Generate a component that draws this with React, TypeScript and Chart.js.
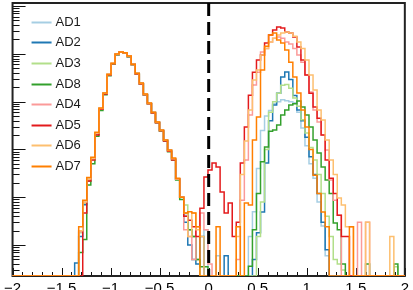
import React, { useEffect, useRef } from 'react';
import { Chart, registerables } from 'chart.js';

Chart.register(...registerables);

// ---- data ----
const SERIES_LABELS = ['AD1', 'AD2', 'AD3', 'AD8', 'AD4', 'AD5', 'AD6', 'AD7'];
const SERIES_COLORS = ['#a6cee3', '#1f78b4', '#b2df8a', '#33a02c', '#fb9a99', '#e31a1c', '#fdbf6f', '#ff7f00'];

// histogram binning (left edge of bin 0, bin width, number of bins)
const BIN_START = -2.026;
const BIN_WIDTH = 0.0412;
const N_BINS = 99;
// the value arrays below start at this bin index (earlier bins are empty)
const FIRST_BIN = 15;

const X_TICKS = [-2, -1.5, -1, -0.5, 0, 0.5, 1, 1.5, 2];
const X_MIN = -2;
const X_MAX = 2;
const Y_MIN = 0.225;
const Y_MAX = 1.16e5;
const CUT_VALUE = 0;

// bins 15 .. 98
const AD1 = [
  0, 0, 2.0, 8, 24, 66, 220, 720, 1500, 3700,
  6300, 9800, 10900, 10500, 8900, 6000, 3900, 2400, 1420, 920,
  590, 370, 250, 155, 95, 64, 24, 10, 4.2, 2.1,
  1.5, 0.5, 0, 2.1, 0, 0, 0.6, 0, 0, 0,
  0, 0, 0, 0, 1.5, 5, 40, 250, 500, 650,
  900, 1000, 1100, 1050, 1000, 950, 600, 280, 120, 50,
  25, 8, 2.5, 0.6, 0, 0, 0, 0, 0, 0,
  0, 0, 0, 0, 0, 0, 0, 0, 0, 0,
  0, 0, 0, 0,
];
const AD2 = [
  0, 0.42, 1.5, 7, 22, 62, 210, 700, 1480, 3650,
  6250, 9750, 10900, 10500, 8850, 6000, 3880, 2400, 1420, 920,
  590, 370, 250, 155, 95, 64, 24, 10, 3, 1,
  0.5, 0.4, 1.5, 0, 0, 0, 0, 0, 0.6, 0,
  0, 0, 0, 0, 0, 0.5, 1.8, 4.9, 52, 400,
  850, 1500, 3300, 4200, 2900, 1350, 670, 400, 180, 70,
  30, 12, 3, 0.8, 0, 0, 0, 0, 0, 0,
  0, 0, 0, 0, 0, 0, 0, 0, 0, 0,
  0, 0, 0, 0,
];
const AD3 = [
  0, 0, 1.8, 7.5, 23, 64, 215, 710, 1490, 3680,
  6300, 9800, 10900, 10500, 8900, 6000, 3900, 2400, 1420, 920,
  590, 370, 250, 155, 95, 64, 24, 10, 6.9, 2.1,
  1.5, 0.5, 0, 0, 0, 0, 0, 0, 0, 0,
  0, 0, 0, 0, 0, 0, 1.5, 8, 100, 600,
  1000, 1500, 2200, 2300, 1900, 1200, 800, 420, 220, 110,
  60, 30, 12, 4, 1.5, 0.5, 0.4, 0.3, 0, 0,
  0, 0, 0, 0, 0, 0, 0, 0, 0, 0,
  0.35, 0, 0, 0,
];
const AD8 = [
  0, 0, 0.7, 1.3, 18, 50, 190, 650, 1400, 3500,
  6100, 9600, 10800, 10400, 8700, 5900, 3800, 2350, 1380, 900,
  570, 360, 240, 150, 90, 60, 23, 9, 4.7, 2.1,
  1.5, 0.5, 0.35, 0.35, 0, 0, 0, 0, 0, 0,
  0, 0, 0, 0, 0.36, 2.1, 12, 55, 112, 240,
  255, 324, 524, 667, 849, 900, 1030, 775, 524, 294,
  157, 84, 43, 23, 12, 2.9, 2.1, 0.4, 0, 0,
  0, 0, 0, 0.4, 0, 0, 0, 0, 0, 0,
  0.4, 0, 0, 0,
];
const AD4 = [
  0, 0, 1.9, 7.8, 23, 64, 215, 710, 1490, 3680,
  6300, 9800, 10900, 10500, 8900, 6000, 3900, 2400, 1420, 920,
  590, 370, 250, 155, 95, 64, 24, 10, 2.1, 1.5,
  0.5, 2.4, 4.7, 2.1, 0.4, 0, 0, 0, 0, 0,
  0, 0.5, 8.7, 60, 524, 2220, 4150, 10900, 13000, 17700,
  21300, 22500, 21300, 17700, 16000, 13000, 9440, 6700, 3600, 1600,
  667, 375, 200, 97, 23, 8.7, 4.2, 0, 0, 0,
  0, 3.0, 0, 3.0, 0, 0, 0, 0, 0, 0,
  0, 0, 0, 0,
];
const AD5 = [
  0, 0, 0, 4.7, 22, 60, 200, 690, 1450, 3600,
  6200, 9700, 10900, 10500, 8800, 6000, 3800, 2350, 1400, 900,
  580, 360, 245, 150, 92, 60, 24, 10, 4, 3.3,
  2.4, 1.5, 5.9, 26.5, 37, 52, 43, 12.9, 4.7, 7.6,
  1.5, 3.0, 52, 294, 1370, 4150, 7410, 9440, 16850, 24700,
  31500, 36400, 34700, 28800, 27500, 22500, 13900, 7410, 3600, 1500,
  775, 450, 200, 60, 25, 12, 4.2, 1.5, 1.5, 0,
  0, 0, 0, 0, 0, 0, 0, 0, 0, 0,
  0, 0, 0, 0,
];
const AD6 = [
  0, 0, 2.0, 8, 24, 65, 220, 720, 1500, 3700,
  6300, 9800, 10900, 10500, 8900, 6000, 3900, 2400, 1420, 920,
  590, 370, 250, 155, 95, 64, 24, 10, 4.7, 1.5,
  4.7, 2.1, 1.5, 0, 0, 0, 0, 0, 0, 0,
  0, 1.5, 30, 150, 667, 2830, 4580, 9440, 13000, 17700,
  21300, 24700, 27500, 28800, 27500, 23400, 17700, 13000, 7410, 3600,
  1750, 667, 412, 157, 60, 30, 9.6, 6.9, 2.4, 2.4,
  0, 0, 0, 3.0, 0, 0, 0, 0, 0, 1.5,
  0, 0, 0, 0,
];
const AD7 = [
  0, 0, 2.4, 8.7, 26, 69, 230, 735, 1520, 3750,
  6400, 9900, 11000, 10600, 9000, 6100, 3950, 2450, 1440, 935,
  600, 375, 255, 157, 97, 66, 25, 10, 4.7, 5,
  4.7, 2.4, 0, 0, 0, 0, 2.4, 0, 0, 0,
  0, 2.4, 0, 7.6, 6.9, 157, 475, 4580, 14500, 24700,
  27500, 19400, 16900, 12000, 6700, 3300, 1520, 667, 294, 100,
  29, 12, 4.9, 2.4, 0, 0, 0, 0, 0, 2.4,
  0, 0, 0, 0, 0, 0, 0, 0, 0, 0,
  0, 0, 0, 0,
];
const SERIES_VALUES = [AD1, AD2, AD3, AD8, AD4, AD5, AD6, AD7];

const FONT = '"Liberation Sans", Arial, Helvetica, sans-serif';

function histPoints(values: number[]) {
  const pts: { x: number; y: number }[] = [];
  let last = Y_MIN;
  for (let j = 0; j < N_BINS; j++) {
    const k = j - FIRST_BIN;
    const v = k >= 0 && k < values.length ? values[k] : 0;
    last = v > Y_MIN ? v : Y_MIN;
    pts.push({ x: BIN_START + j * BIN_WIDTH, y: last });
  }
  pts.push({ x: BIN_START + N_BINS * BIN_WIDTH, y: last });
  return pts;
}

const framePlugin = {
  id: 'rootFrame',
  beforeDatasetsDraw(chart: any) {
    const { ctx, chartArea, scales } = chart;
    const { left, right, top, bottom } = chartArea;
    const xs = scales.x;
    const ys = scales.y;
    ctx.save();
    ctx.strokeStyle = '#111';
    ctx.lineWidth = 1;
    ctx.beginPath();
    for (let k = -20; k <= 20; k++) {
      const px = Math.round(xs.getPixelForValue(k / 10)) + 0.5;
      const len = k % 5 === 0 ? 8 : 4;
      ctx.moveTo(px, bottom);
      ctx.lineTo(px, bottom - len);
    }
    for (let e = -1; e <= 5; e++) {
      for (let m = 1; m <= 9; m++) {
        const v = m * Math.pow(10, e);
        if (v < Y_MIN || v > Y_MAX) continue;
        const py = Math.round(ys.getPixelForValue(v)) + 0.5;
        const len = m === 1 ? 13 : 7;
        ctx.moveTo(left, py);
        ctx.lineTo(left + len, py);
      }
    }
    ctx.stroke();
    ctx.lineWidth = 2;
    ctx.strokeStyle = '#222';
    ctx.strokeRect(left, top, right - left, bottom - top);
    ctx.restore();
  },
};

const legendPlugin = {
  id: 'rootLegend',
  afterDatasetsDraw(chart: any) {
    const { ctx, chartArea } = chart;
    const x0 = chartArea.left + 19;
    const y0 = chartArea.top + 18.7;
    const step = 20.6;
    ctx.save();
    ctx.font = '13px ' + FONT;
    ctx.textBaseline = 'middle';
    ctx.textAlign = 'left';
    chart.data.datasets.forEach((ds: any, i: number) => {
      if (i >= SERIES_LABELS.length) return;
      const y = Math.round(y0 + i * step) + 0.5;
      ctx.strokeStyle = ds.borderColor;
      ctx.lineWidth = 2;
      ctx.beginPath();
      ctx.moveTo(x0, y);
      ctx.lineTo(x0 + 20, y);
      ctx.stroke();
      ctx.fillStyle = '#1a1a1a';
      ctx.fillText(ds.label, x0 + 24, y);
    });
    ctx.restore();
  },
};

export default function App() {
  const ref = useRef<HTMLCanvasElement | null>(null);
  useEffect(() => {
    if (!ref.current) return;
    const datasets: any[] = SERIES_LABELS.map((label, i) => ({
      label,
      data: histPoints(SERIES_VALUES[i]),
      borderColor: SERIES_COLORS[i],
      backgroundColor: SERIES_COLORS[i],
      borderWidth: 1.5,
      stepped: 'before',
      fill: false,
      pointRadius: 0,
      order: SERIES_LABELS.length - i + 1,
    }));
    datasets.push({
      label: 'cut',
      data: [
        { x: CUT_VALUE, y: Y_MAX },
        { x: CUT_VALUE, y: Y_MIN },
      ],
      borderColor: '#000',
      borderWidth: 3,
      borderDash: [13, 6],
      stepped: false,
      fill: false,
      pointRadius: 0,
      order: 0,
    });
    const chart = new Chart(ref.current, {
      type: 'line',
      data: { datasets },
      options: {
        animation: false,
        responsive: true,
        maintainAspectRatio: false,
        layout: { autoPadding: false, padding: { left: 4, right: 4, top: 3, bottom: 0 } },
        plugins: { legend: { display: false }, tooltip: { enabled: false } },
        elements: { point: { radius: 0 }, line: { tension: 0 } },
        scales: {
          x: {
            type: 'linear',
            min: X_MIN,
            max: X_MAX,
            grid: { display: false, drawTicks: false },
            border: { display: false },
            afterBuildTicks: (s: any) => {
              s.ticks = X_TICKS.map((v) => ({ value: v }));
            },
            afterFit: (s: any) => {
              s.height = 24;
            },
            ticks: {
              autoSkip: false,
              maxRotation: 0,
              padding: 4,
              color: '#000',
              font: { family: FONT, size: 15 },
              callback: (v: any) => {
                const n = Number(v);
                if (n === 0) return '0';
                return n < 0 ? '\u2212' + String(Math.abs(n)) : String(n);
              },
            },
          },
          y: {
            type: 'logarithmic',
            display: false,
            min: Y_MIN,
            max: Y_MAX,
            bounds: 'data',
          },
        },
      } as any,
      plugins: [framePlugin, legendPlugin],
    });
    return () => chart.destroy();
  }, []);

  return (
    <div style={{ position: 'fixed', left: 0, top: 0, width: 413, height: 290, overflow: 'hidden', background: '#fff' }}>
      <div style={{ position: 'relative', width: 413, height: 300 }}>
        <canvas ref={ref} />
      </div>
    </div>
  );
}
